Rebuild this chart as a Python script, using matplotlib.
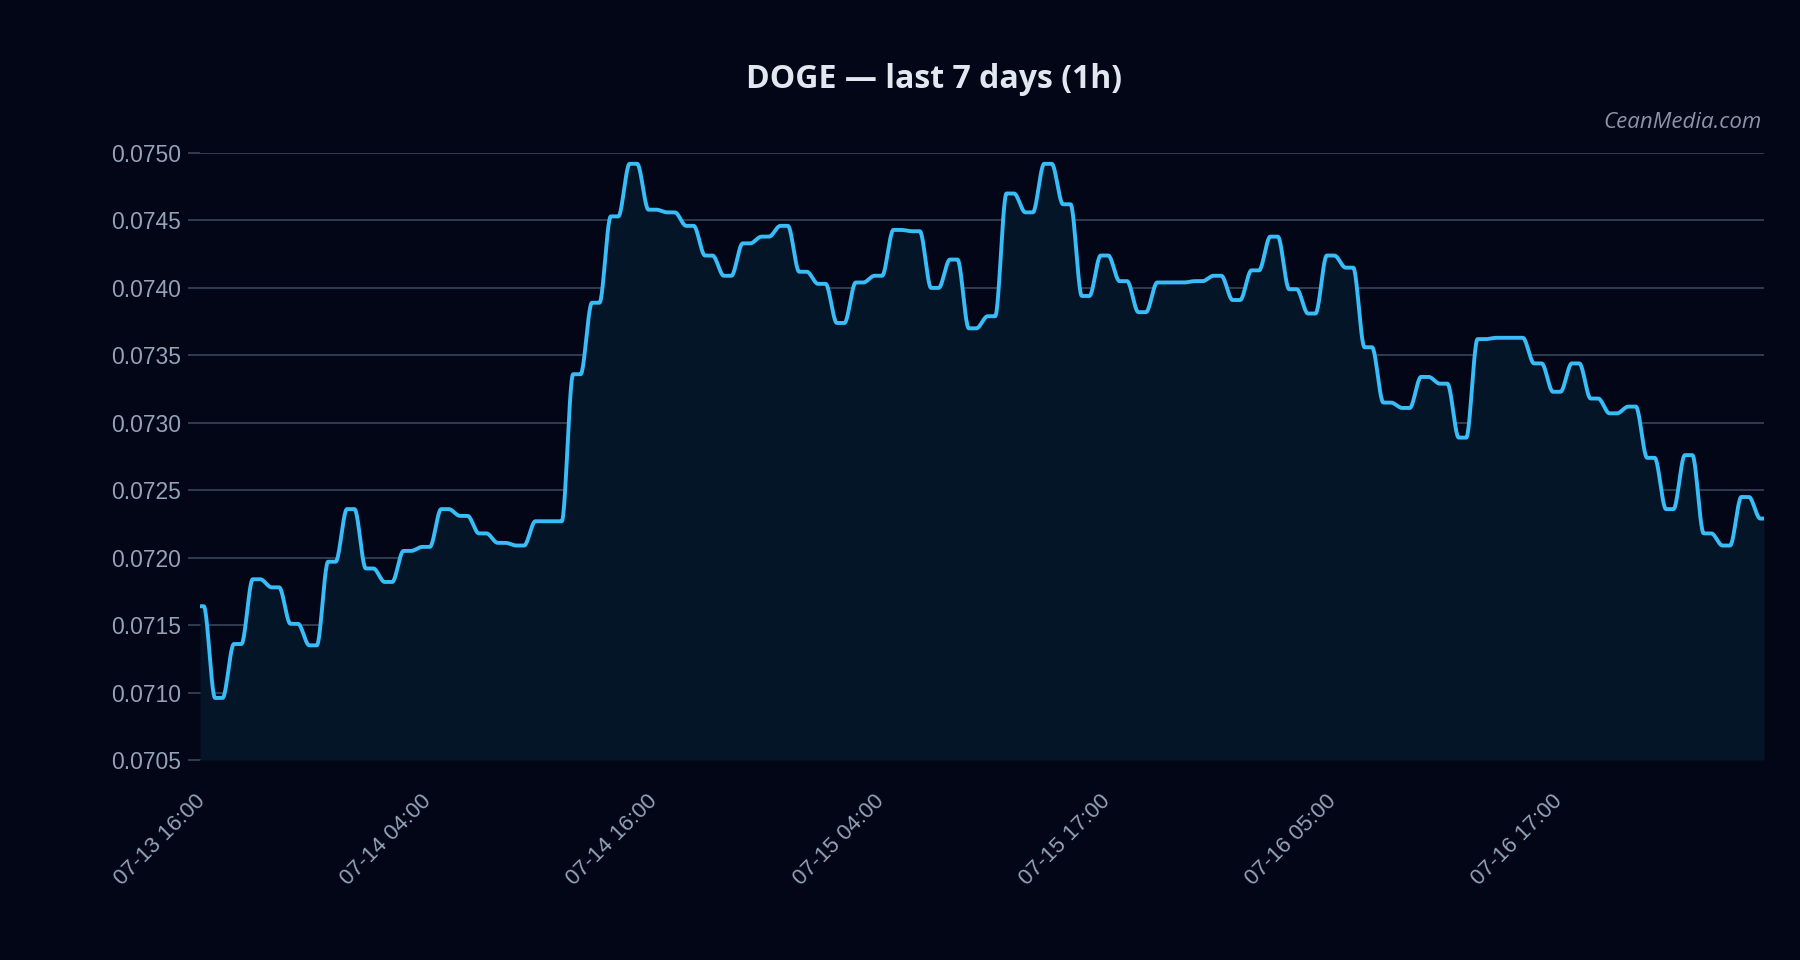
import matplotlib
matplotlib.use('Agg')
import matplotlib.pyplot as plt
from matplotlib.transforms import ScaledTranslation
import numpy as np

# DOGE hourly closes
prices = [
    0.07164, 0.07096, 0.07136, 0.07184, 0.07178, 0.07151, 0.07135, 0.07197,
    0.07236, 0.07192, 0.07182, 0.07205, 0.07208, 0.07236, 0.07231, 0.07218,
    0.07211, 0.07209, 0.07227, 0.07227, 0.07336, 0.07389, 0.07453, 0.07492,
    0.07458, 0.07456, 0.07446, 0.07424, 0.07409, 0.07433, 0.07438, 0.07446,
    0.07412, 0.07403, 0.07374, 0.07404, 0.07409, 0.07443, 0.07442, 0.07400,
    0.07421, 0.07370, 0.07379, 0.07470, 0.07456, 0.07492, 0.07462, 0.07394,
    0.07424, 0.07405, 0.07382, 0.07404, 0.07404, 0.07405, 0.07409, 0.07391,
    0.07413, 0.07438, 0.07399, 0.07381, 0.07424, 0.07415, 0.07356, 0.07315,
    0.07311, 0.07334, 0.07329, 0.07289, 0.07362, 0.07363, 0.07363, 0.07344,
    0.07323, 0.07344, 0.07318, 0.07307, 0.07312, 0.07274, 0.07236, 0.07276,
    0.07218, 0.07209, 0.07245, 0.07229,
]
tick_labels = ['07-13 16:00', '07-14 04:00', '07-14 16:00', '07-15 04:00',
               '07-15 17:00', '07-16 05:00', '07-16 17:00']
tick_every = 12

BG = '#020617'
FILL = '#051528'
LINE = '#38bdf8'
GRID = '#334155'
TICK = '#94a3b8'


def smooth_path(y, steps=40, flat=0.2):
    # eased segments between hourly points (flat at each point)
    y = np.asarray(y)
    u = np.linspace(0, 1, steps, endpoint=False)
    v = np.clip((u - flat) / (1 - 2 * flat), 0, 1)
    ease = v * v * (3 - 2 * v)
    xs, ys = [], []
    for i in range(len(y) - 1):
        xs.append(i + u)
        ys.append(y[i] + (y[i + 1] - y[i]) * ease)
    xs.append([len(y) - 1])
    ys.append([y[-1]])
    return np.concatenate(xs), np.concatenate(ys)


fig = plt.figure(figsize=(18, 9.6), dpi=100, facecolor=BG)
ax = fig.add_axes([200 / 1800, 1 - 760 / 960, 1564 / 1800, 607 / 960])
ax.set_facecolor(BG)

xs, ys = smooth_path(prices)
ax.fill_between(xs, ys, 0.0705, color=FILL, linewidth=0, zorder=1)
ax.plot(xs, ys, color=LINE, linewidth=2.8, solid_capstyle='round', zorder=3)

ax.set_xlim(0, len(prices) - 1)
ax.set_ylim(0.0705, 0.0750)
ax.set_yticks(np.arange(0.0705, 0.07501, 0.0005))
ax.yaxis.set_major_formatter(matplotlib.ticker.FormatStrFormatter('%.4f'))
ax.set_xticks(np.arange(0, len(prices), tick_every)[:len(tick_labels)])
ax.set_xticklabels(tick_labels, rotation=45, ha='right', rotation_mode='anchor')

ax.grid(True, axis='y', color=GRID, linewidth=1.3, zorder=0)
ax.set_axisbelow(True)
for s in ax.spines.values():
    s.set_visible(False)

ax.tick_params(axis='y', colors=GRID, length=9, width=1.3, pad=4.5,
               labelcolor=TICK, labelsize=16.5)
ax.tick_params(axis='x', length=0, pad=22, labelcolor=TICK, labelsize=16)
shift = ScaledTranslation(-5 / 100, 0, fig.dpi_scale_trans)
for lab in ax.get_xticklabels():
    lab.set_fontfamily('Liberation Sans')
    lab.set_transform(lab.get_transform() + shift)
for lab in ax.get_yticklabels():
    lab.set_fontfamily('Liberation Sans')

fig.text(934 / 1800, 1 - 79 / 960, 'DOGE — last 7 days (1h)', ha='center', va='center',
         fontsize=23, fontweight='bold', color='#e2e8f0', family='Open Sans')
fig.text(1762 / 1800, 1 - 123 / 960, 'CeanMedia.com', ha='right', va='center',
         fontsize=16, fontstyle='italic', color='#8a94a6', family='Open Sans')

plt.savefig('out.png', dpi=100, facecolor=BG)
